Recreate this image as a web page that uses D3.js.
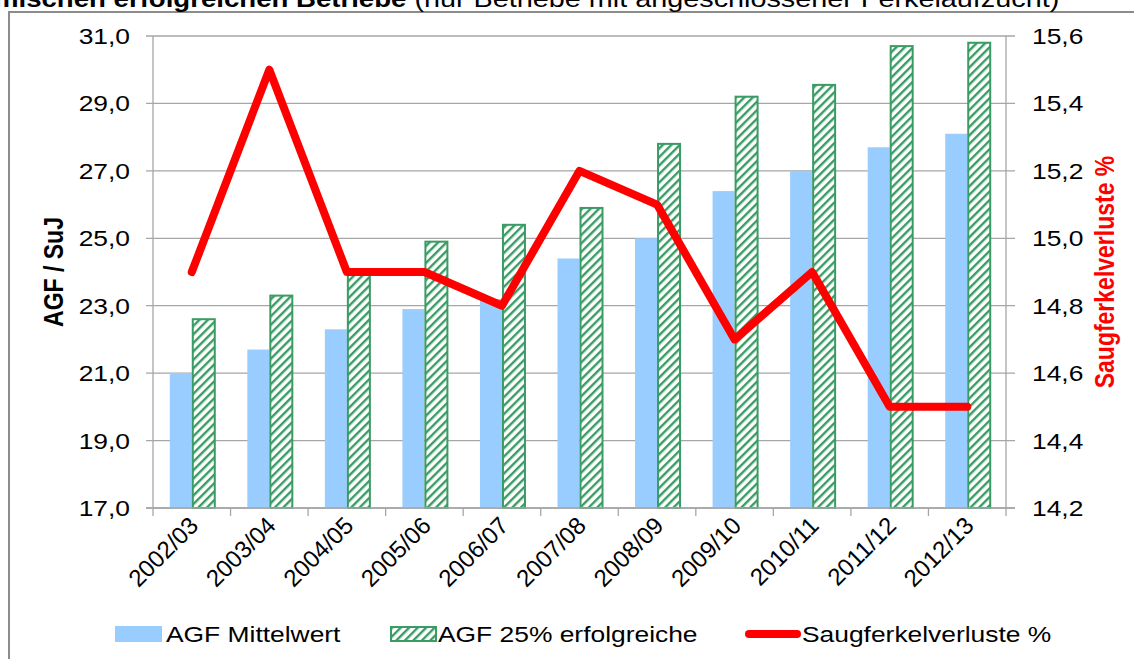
<!DOCTYPE html>
<html>
<head>
<meta charset="utf-8">
<script src="https://cdn.jsdelivr.net/npm/d3@7"></script>
<style>
  html, body { margin: 0; padding: 0; background: #fff; overflow: hidden; }
  svg { display: block; font-family: 'Liberation Sans', Arial, sans-serif; }
</style>
</head>
<body>
<div id="chart"></div>
<script>
const seasons = ['2002/03', '2003/04', '2004/05', '2005/06', '2006/07', '2007/08',
  '2008/09', '2009/10', '2010/11', '2011/12', '2012/13'];
const agfMean = [21.0, 21.7, 22.3, 22.9, 23.2, 24.4, 25.0, 26.4, 27.0, 27.7, 28.1];
const agfTop = [22.6, 23.3, 24.0, 24.9, 25.4, 25.9, 27.8, 29.2, 29.55, 30.7, 30.8];
const losses = [14.9, 15.5, 14.9, 14.9, 14.8, 15.2, 15.1, 14.7, 14.9, 14.5, 14.5];
const leftTicks = [17, 19, 21, 23, 25, 27, 29, 31];
const rightTicks = [14.2, 14.4, 14.6, 14.8, 15.0, 15.2, 15.4, 15.6];
const legendLabels = ['AGF Mittelwert', 'AGF 25% erfolgreiche', 'Saugferkelverluste %'];

const W = 1134, H = 659;
const SX = 1.2; // the picture is stretched sideways, text follows it
const plot = { left: 153, right: 1006, top: 36, bottom: 508 };
const blue = '#99ccff', green = '#3a9b64', red = '#ff0000', grid = '#a6a6a6';

const fmt = d3.formatLocale({ decimal: ',', thousands: '.', grouping: [3], currency: ['', '€'] }).format(',.1f');

const svg = d3.select('#chart').append('svg')
  .attr('width', W).attr('height', H);

svg.append('rect').attr('width', W).attr('height', H).attr('fill', '#fff');

const defs = svg.append('defs');
const pat = defs.append('pattern')
  .attr('id', 'hatch')
  .attr('patternUnits', 'userSpaceOnUse')
  .attr('width', 6).attr('height', 6)
  .attr('patternTransform', 'rotate(45)');
pat.append('rect').attr('width', 6).attr('height', 6).attr('fill', '#fff');
pat.append('rect').attr('x', 0).attr('width', 2.4).attr('height', 6).attr('fill', green);

// outer frame
svg.append('rect')
  .attr('x', 9).attr('y', 12)
  .attr('width', 1140).attr('height', 700)
  .attr('fill', 'none').attr('stroke', '#8c8c8c').attr('stroke-width', 2);

// title, cut at the top as in the source
const title = svg.append('text')
  .attr('transform', `translate(-6,7) scale(${SX},1)`)
  .style('font-size', '23px').attr('fill', '#000');
title.append('tspan').style('font-weight', 'bold').text('mischen erfolgreichen Betriebe');
title.append('tspan').style('font-size', '24px').text(' (nur Betriebe mit angeschlossener Ferkelaufzucht)');

const x = d3.scaleBand().domain(seasons).range([plot.left, plot.right]);
const yL = d3.scaleLinear().domain([17, 31]).range([plot.bottom, plot.top]);
const yR = d3.scaleLinear().domain([14.2, 15.6]).range([plot.bottom, plot.top]);
const barW = 22;

// gridlines
svg.append('g').selectAll('line').data(leftTicks).join('line')
  .attr('x1', plot.left - 7).attr('x2', plot.right + 9)
  .attr('y1', d => yL(d)).attr('y2', d => yL(d))
  .attr('stroke', grid).attr('stroke-width', 1.3);

// axis lines
svg.append('line').attr('x1', plot.left).attr('x2', plot.left)
  .attr('y1', plot.top).attr('y2', plot.bottom).attr('stroke', grid).attr('stroke-width', 1.3);
svg.append('line').attr('x1', plot.right).attr('x2', plot.right)
  .attr('y1', plot.top).attr('y2', plot.bottom).attr('stroke', grid).attr('stroke-width', 1.3);

// category ticks
const bounds = seasons.map(d => x(d)).concat([plot.right]);
svg.append('g').selectAll('line').data(bounds).join('line')
  .attr('x1', d => d).attr('x2', d => d)
  .attr('y1', plot.bottom).attr('y2', plot.bottom + 8)
  .attr('stroke', grid).attr('stroke-width', 1.3);

// bars
svg.append('g').selectAll('rect').data(agfMean).join('rect')
  .attr('x', (d, i) => x(seasons[i]) + x.bandwidth() / 2 - barW)
  .attr('y', d => yL(d))
  .attr('width', barW)
  .attr('height', d => yL(17) - yL(d))
  .attr('fill', blue);

svg.append('g').selectAll('rect').data(agfTop).join('rect')
  .attr('x', (d, i) => x(seasons[i]) + x.bandwidth() / 2 + 1)
  .attr('y', d => yL(d))
  .attr('width', barW)
  .attr('height', d => yL(17) - yL(d))
  .attr('fill', 'url(#hatch)')
  .attr('stroke', green).attr('stroke-width', 2);

svg.append('line').attr('x1', plot.left - 7).attr('x2', plot.right + 9)
  .attr('y1', plot.bottom).attr('y2', plot.bottom).attr('stroke', grid).attr('stroke-width', 1.3);

// losses line
const line = d3.line()
  .x((d, i) => x(seasons[i]) + x.bandwidth() / 2)
  .y(d => yR(d));
svg.append('path').datum(losses)
  .attr('d', line)
  .attr('fill', 'none').attr('stroke', red)
  .attr('stroke-width', 8)
  .attr('stroke-linejoin', 'round').attr('stroke-linecap', 'round');

// tick labels
svg.append('g').selectAll('text').data(leftTicks).join('text')
  .attr('transform', d => `translate(130,${yL(d) + 8}) scale(${SX},1)`)
  .attr('text-anchor', 'end')
  .style('font-size', '22px')
  .text(d => fmt(d));

svg.append('g').selectAll('text').data(rightTicks).join('text')
  .attr('transform', d => `translate(1032,${yR(d) + 8}) scale(${SX},1)`)
  .style('font-size', '22px')
  .text(d => fmt(d));

svg.append('g').selectAll('text').data(seasons).join('text')
  .attr('transform', d => `translate(${x(d) + x.bandwidth() / 2 + 8},527) rotate(-45)`)
  .attr('text-anchor', 'end')
  .style('font-size', '24px')
  .text(d => d);

// axis titles
svg.append('text')
  .attr('transform', `translate(63,${(plot.top + plot.bottom) / 2}) scale(${SX},1) rotate(-90)`)
  .attr('text-anchor', 'middle')
  .style('font-size', '23px').style('font-weight', 'bold')
  .text('AGF / SuJ');

svg.append('text')
  .attr('transform', `translate(1114,${(plot.top + plot.bottom) / 2}) scale(${SX},1) rotate(-90)`)
  .attr('text-anchor', 'middle')
  .style('font-size', '23px').style('font-weight', 'bold')
  .attr('fill', red)
  .text('Saugferkelverluste %');

// legend
const legY = 634;
const leg = svg.append('g');
leg.append('rect').attr('x', 115).attr('y', legY - 8).attr('width', 47).attr('height', 16).attr('fill', blue);
leg.append('rect').attr('x', 391).attr('y', legY - 7).attr('width', 45).attr('height', 14)
  .attr('fill', 'url(#hatch)').attr('stroke', green).attr('stroke-width', 2);
leg.append('line').attr('x1', 749).attr('x2', 797).attr('y1', legY).attr('y2', legY)
  .attr('stroke', red).attr('stroke-width', 8).attr('stroke-linecap', 'round');

const legX = [166, 438, 802];
leg.selectAll('text').data(legendLabels).join('text')
  .attr('transform', (d, i) => `translate(${legX[i]},${legY + 8}) scale(${SX},1)`)
  .style('font-size', '22px')
  .text(d => d);
</script>
</body>
</html>
